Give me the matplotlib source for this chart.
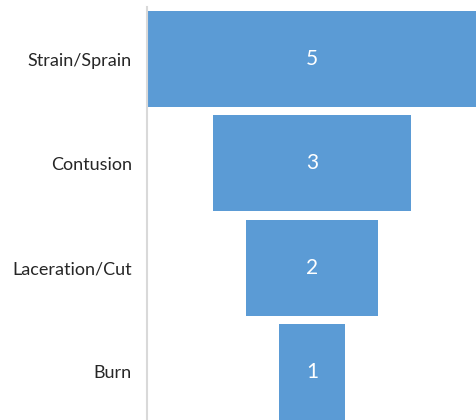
import matplotlib
matplotlib.use("Agg")
import matplotlib.pyplot as plt

# funnel of injury types
categories = ["Strain/Sprain", "Contusion", "Laceration/Cut", "Burn"]
counts = [5, 3, 2, 1]

plt.rcParams['font.family'] = ['Lato', 'DejaVu Sans']

fig = plt.figure(figsize=(4.77, 4.20), dpi=100)
ax = fig.add_axes([147/477, -4/420, 330/477, 417/420])

y = list(range(len(categories)))
lefts = [-c/2 for c in counts]
bars = ax.barh(y, counts, left=lefts, height=0.92, color="#5b9bd5")

for yi, c in zip(y, counts):
    ax.text(0, yi, str(c), ha="center", va="center", color="white", fontsize=15)

ax.set_xlim(-max(counts)/2, max(counts)/2)
ax.set_ylim(len(categories) - 0.5, -0.5)
ax.set_yticks(y)
ax.set_yticklabels(categories, fontsize=13, color="#262626")
ax.tick_params(axis="y", length=0, pad=11)
ax.set_xticks([])
for s in ["top", "right", "bottom"]:
    ax.spines[s].set_visible(False)
ax.spines["left"].set_color("#d9d9d9")
ax.spines["left"].set_linewidth(1.5)

fig.savefig("out.png", dpi=100)
